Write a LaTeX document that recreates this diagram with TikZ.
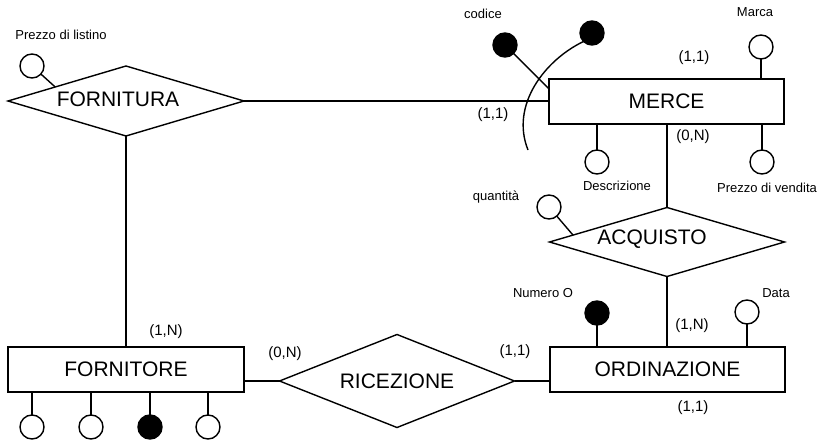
\documentclass[tikz,border=0pt]{standalone}
\usepackage{fontspec}
\setmainfont{Liberation Sans}
\usepackage{tikz}
\usetikzlibrary{positioning}
\usetikzlibrary{calc,shapes.geometric}

\tikzset{
	entity/.style={draw, rectangle, minimum width=235pt, minimum height=45pt,
		inner sep=0pt, outer sep=0pt, font=\fontsize{21}{21}\selectfont},
	relation/.style={draw, diamond, shape aspect=3.4, minimum width=236pt, minimum height=70pt,
		inner sep=0pt, outer sep=0pt, font=\fontsize{21}{21}\selectfont},
	attrib/.style={draw, circle, minimum size=24pt, inner sep=0pt, outer sep=0pt},
	keyattrib/.style={attrib, fill=black},
	card/.style={font=\fontsize{15}{15}\selectfont},
	attrname/.style={font=\fontsize{13}{13}\selectfont},
}

\begin{document}
\begin{tikzpicture}[x=1pt, y=-1pt, line width=1.4pt]
	
	\useasboundingbox (0,0) rectangle (818,443);
	
	% entities
	\node[entity] (MERCE) at (666.5,101.5) {MERCE};
	\node[entity] (ORDINAZIONE) at (667.5,369.5) {ORDINAZIONE};
	\node[entity, minimum width=236pt] (FORNITORE) at (126,369.5) {FORNITORE};
	
	% relationships (names sit a little off centre)
	\node[relation, label={[xshift=-8pt, yshift=2pt, font=\fontsize{21}{21}\selectfont]center:FORNITURA}] (FORNITURA) at (126,101) {};
	\node[relation, minimum width=235pt, minimum height=69pt,
		label={[xshift=-15pt, yshift=3pt, font=\fontsize{21}{21}\selectfont]center:ACQUISTO}] (ACQUISTO) at (667,242) {};
	\node[relation, shape aspect=2.5, minimum width=235pt, minimum height=93pt] (RICEZIONE) at (397,381) {RICEZIONE};
	
	% links between entities and relationships
	\draw (FORNITURA.east) -- (FORNITURA.east -| MERCE.west);
	\draw (FORNITURA.south) -- (FORNITORE.north);
	\draw (ACQUISTO.north) -- (ACQUISTO.north |- MERCE.south);
	\draw (ACQUISTO.south) -- (ACQUISTO.south |- ORDINAZIONE.north);
	\draw (RICEZIONE.west) -- (RICEZIONE.west -| FORNITORE.east);
	\draw (RICEZIONE.east) -- (RICEZIONE.east -| ORDINAZIONE.west);
	
	% attributes of MERCE
	\node[keyattrib] (codice) at (505,45) {};
	\node[keyattrib] (codiceExt) at (592,33) {};
	\node[attrib] (marca) at (761,47) {};
	\node[attrib] (descrizione) at (597,162) {};
	\node[attrib] (prezzoV) at (762,162) {};
	\draw (codice) -- ($(MERCE.north west)!0.22!(MERCE.south west)$);
	\draw (marca) -- (marca |- MERCE.north);
	\draw (descrizione) -- (descrizione |- MERCE.south);
	\draw (prezzoV) -- (prezzoV |- MERCE.south);
	
	% external identifier: arc across codice and FORNITURA
	\coordinate (arcEnd) at (528,150);
	\draw (codiceExt.south west) .. controls (545,60) and (510,105) .. (arcEnd);
	
	% attributes of the relationships
	\node[attrib] (prezzoL) at (32,66) {};
	\node[attrib] (quantita) at (549,207) {};
	\draw (prezzoL) -- ($(FORNITURA.west)!0.4!(FORNITURA.north)$);
	\draw (quantita) -- ($(ACQUISTO.west)!0.2!(ACQUISTO.north)$);
	
	% attributes of ORDINAZIONE
	\node[keyattrib] (numeroO) at (597,313) {};
	\node[attrib] (data) at (747,312) {};
	\draw (numeroO) -- (numeroO |- ORDINAZIONE.north);
	\draw (data) -- (data |- ORDINAZIONE.north);
	
	% attributes of FORNITORE (the third one is the key)
	\foreach \i/\x/\st in {1/32/attrib, 2/91/attrib, 3/150/keyattrib, 4/208/attrib}{
		\node[\st] (forn\i) at (\x,427) {};
		\draw (forn\i) -- (forn\i |- FORNITORE.south);
	}
	
	% attribute names
	\node[attrname] (lblPrezzoL) at (61,35) {Prezzo di listino};
	\node[attrname] (lblCodice) at (483,14) {codice};
	\node[attrname] (lblMarca) at (755,12) {Marca};
	\node[attrname] (lblDescr) at (617,186) {Descrizione};
	\node[attrname] (lblPrezzoV) at (767,188) {Prezzo di vendita};
	\node[attrname] (lblQuant) at (496,197) {quantità};
	\node[attrname] (lblNumero) at (543,293) {Numero O};
	\node[attrname] (lblData) at (776,293) {Data};
	
	% cardinalities
	\node[card] (c1) at (694,58) {(1,1)};
	\node[card] (c2) at (493,115) {(1,1)};
	\node[card] (c3) at (693,137) {(0,N)};
	\node[card] (c4) at (692,326) {(1,N)};
	\node[card] (c5) at (515,352) {(1,1)};
	\node[card] (c6) at (693,408) {(1,1)};
	\node[card] (c7) at (166,332) {(1,N)};
	\node[card] (c8) at (285,354) {(0,N)};
	
\end{tikzpicture}
\end{document}
